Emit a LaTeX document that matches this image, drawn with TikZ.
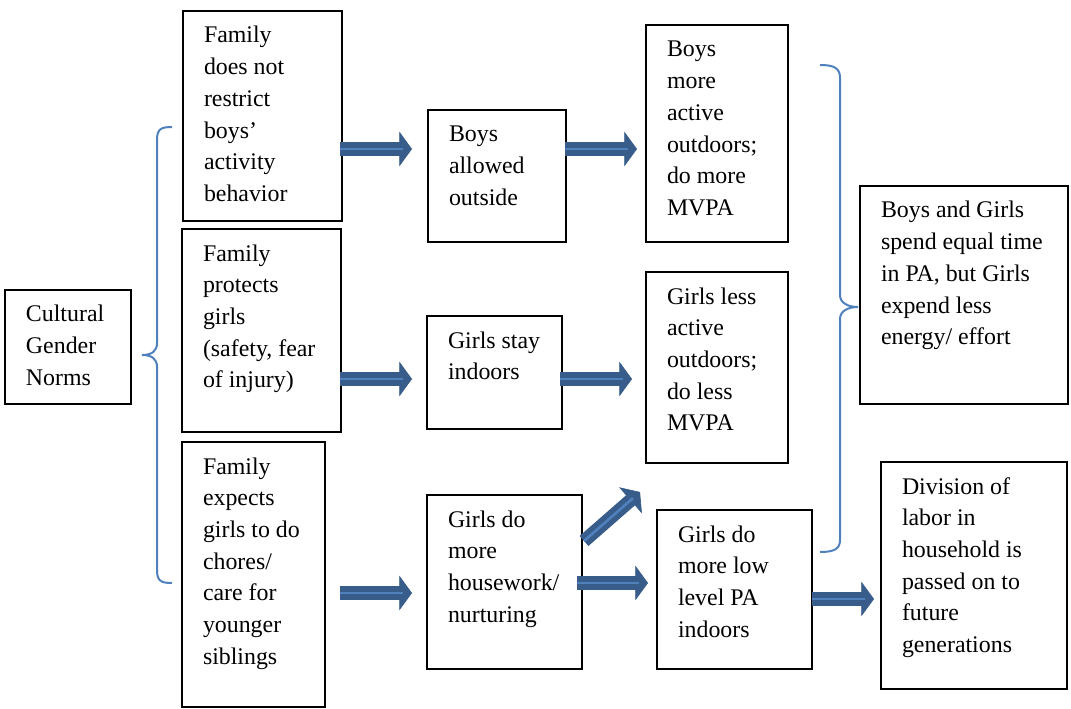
\documentclass[tikz,border=0pt]{standalone}
\usepackage{fontspec}
\setmainfont{Liberation Serif}
\usetikzlibrary{arrows.meta,calc}
\definecolor{arrowdark}{RGB}{56,93,138}
\definecolor{arrowlight}{RGB}{79,129,189}
\definecolor{bracecol}{RGB}{79,129,189}
\newlength\pxu \setlength\pxu{0.75pt}
\tikzset{
	gbox/.style={draw, line width=1.5pt, anchor=north west, inner sep=0pt},
	barrow/.style={draw=arrowdark, line width=10pt, -{Triangle[width=26pt,length=9.5pt,line width=0.5pt]},
		postaction={draw=arrowlight, line width=2pt, -, shorten >=7pt}},
	gbrace/.style={draw=bracecol, line width=1.5pt}
}
\newcommand{\gtext}[3]{\parbox[c][#2\pxu][t]{#1\pxu}{\raggedright\leftskip=21\pxu\rule{0pt}{24pt}#3}}

\begin{document}
\begin{tikzpicture}[x=0.75pt, y=-0.75pt, font=\fontsize{17.9pt}{23.8pt}\selectfont, line join=miter]
	\fill[white] (0,0) rectangle (1071,709);
	\useasboundingbox (0,0) rectangle (1071,709);
	% boxes
	\node[gbox] (norms) at (4,289) {\gtext{126}{114}{Cultural\\Gender\\Norms}};
	\node[gbox] (notrestrict) at (182,10) {\gtext{159}{210}{Family\\does not\\restrict\\boys’\\activity\\behavior}};
	\node[gbox] (protects) at (181,228) {\gtext{159}{203}{Family\\protects\\girls\\(safety, fear\\of injury)}};
	\node[gbox] (chores) at (181,441) {\gtext{143}{265}{Family\\expects\\girls to do\\chores/\\care for\\younger\\siblings}};
	\node[gbox] (outside) at (427,109) {\gtext{138}{132}{Boys\\allowed\\outside}};
	\node[gbox] (indoors) at (426,315) {\gtext{135}{113}{Girls stay\\indoors}};
	\node[gbox] (housework) at (426,494) {\gtext{155}{174}{Girls do\\more\\housework/\\nurturing}};
	\node[gbox] (boysmvpa) at (645,24) {\gtext{142}{217}{Boys\\more\\active\\outdoors;\\do more\\MVPA}};
	\node[gbox] (girlsmvpa) at (645,271) {\gtext{142}{191}{Girls less\\active\\outdoors;\\do less\\MVPA}};
	\node[gbox] (lowpa) at (656,509) {\gtext{155}{159}{Girls do\\more low\\level PA\\indoors}};
	\node[gbox] (equal) at (859,185) {\gtext{208}{218}{Boys and Girls\\spend equal time\\in PA, but Girls\\expend less\\energy/ effort}};
	\node[gbox] (labor) at (880,461) {\gtext{186}{227}{Division of\\labor in\\household is\\passed on to\\future\\generations}};
	% block arrows
	\draw[barrow] ($(notrestrict.east)+(-3,33)$) -- ($(outside.west)+(-15,-27)$);
	\draw[barrow] ($(outside.east)+(-2,-27)$) -- ($(boysmvpa.west)+(-8,15.5)$);
	\draw[barrow] ($(protects.east)+(-2,48.5)$) -- ($(indoors.west)+(-14,6.5)$);
	\draw[barrow] ($(indoors.east)+(-3,6.5)$) -- ($(girlsmvpa.west)+(-13,11.5)$);
	\draw[barrow] ($(chores.east)+(14,18.5)$) -- ($(housework.west)+(-14,11)$);
	\draw[barrow] ($(housework.east)+(-6,1)$) -- ($(lowpa.west)+(-8,-6.5)$);
	\draw[barrow] ($(housework.east)+(1,-41)$) -- ($(girlsmvpa.south west)+(-5,28)$);
	\draw[barrow] ($(lowpa.east)+(-1,9.5)$) -- ($(labor.west)+(-6,23.5)$);
	% braces
	\draw[gbrace] (172,127) .. controls (161,127) and (157,129) .. (157,140) -- (157,343)
		.. controls (157,351) and (152,355) .. (142,355) .. controls (152,355) and (157,359) .. (157,367)
		-- (157,570) .. controls (157,581) and (161,583) .. (172,583);
	\draw[gbrace] (820,65) .. controls (834,65) and (840,68) .. (840,78) -- (840,295)
		.. controls (840,303) and (848,307) .. (858,307) .. controls (848,307) and (840,311) .. (840,319)
		-- (840,540) .. controls (840,549) and (834,552) .. (820,552);
\end{tikzpicture}
\end{document}
